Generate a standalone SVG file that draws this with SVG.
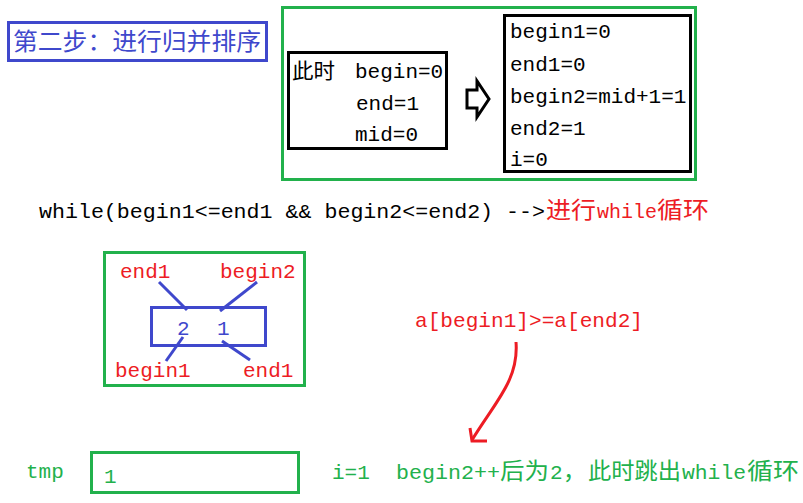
<svg xmlns="http://www.w3.org/2000/svg" width="803" height="503" viewBox="0 0 803 503">
<style>
.box{fill:none;stroke-width:3}
.g{stroke:#22b14c}.b{stroke:#3f48cc}.k{stroke:#000}
.m{font-family:"Liberation Mono","Noto Sans CJK SC",monospace;font-size:21px}
.c{font-family:"Noto Sans CJK SC","Liberation Sans",sans-serif}
.blk{fill:#000}.red{fill:#ed1c24}.grn{fill:#22b14c}.blu{fill:#3f48cc}
.ln{stroke:#3f48cc;stroke-width:3;fill:none}
</style>
<rect width="803" height="503" fill="#fff"/>
<g id="title">
<rect class="box b" x="8.5" y="22.5" width="258" height="38"/>
<text class="c blu" x="13" y="50" font-size="24" textLength="248" lengthAdjust="spacingAndGlyphs">第二步：进行归并排序</text>
</g>
<g id="state">
<rect class="box g" x="282.5" y="7.5" width="413" height="172"/>
<g id="before">
<rect class="box k" x="288.5" y="52.5" width="158" height="96"/>
<text class="c blk" x="292" y="78" font-size="21" textLength="43" lengthAdjust="spacingAndGlyphs">此时</text>
<text class="m blk" x="355" y="78">begin=0</text>
<text class="m blk" x="356" y="110">end=1</text>
<text class="m blk" x="355" y="141">mid=0</text>
</g>
<g id="arrow">
<polygon points="467,90 477,90 477,81 489,99 477,117 477,108 467,108" fill="#fff" stroke="#000" stroke-width="3"/>
</g>
<g id="after">
<rect class="box k" x="504.5" y="15.5" width="186" height="156"/>
<text class="m blk" x="510" y="38">begin1=0</text>
<text class="m blk" x="510" y="71">end1=0</text>
<text class="m blk" x="510" y="103">begin2=mid+1=1</text>
<text class="m blk" x="510" y="135">end2=1</text>
<text class="m blk" x="510" y="166">i=0</text>
</g>
</g>
<g id="while">
<text class="m blk" x="39" y="218" textLength="506" lengthAdjust="spacingAndGlyphs">while(begin1&lt;=end1 &amp;&amp; begin2&lt;=end2) --&gt;</text>
<text class="c red" x="546" y="218" font-size="23" textLength="50" lengthAdjust="spacingAndGlyphs">进行</text>
<text class="m red" x="597" y="218" textLength="60" lengthAdjust="spacingAndGlyphs">while</text>
<text class="c red" x="657" y="218" font-size="23" textLength="52" lengthAdjust="spacingAndGlyphs">循环</text>
</g>
<g id="array">
<rect class="box g" x="104.5" y="252.5" width="200" height="133"/>
<rect class="box b" x="151.5" y="307.5" width="114" height="38"/>
<text class="m blu" x="177" y="335">2</text>
<text class="m blu" x="217" y="335">1</text>
<text class="m red" x="120" y="278">end1</text>
<text class="m red" x="220" y="278">begin2</text>
<text class="m red" x="115" y="377">begin1</text>
<text class="m red" x="243" y="377">end1</text>
</g>
<g id="connectors">
<line class="ln" x1="159" y1="282" x2="187" y2="310"/>
<line class="ln" x1="257" y1="282" x2="220" y2="311"/>
<line class="ln" x1="183" y1="337" x2="166" y2="361"/>
<line class="ln" x1="222" y1="341" x2="250" y2="360"/>
<path d="M516,342 C519,380 495,402 472,440" fill="none" stroke="#ed1c24" stroke-width="3"/>
<polyline points="470,428 472,441 487,441" fill="none" stroke="#ed1c24" stroke-width="3"/>
</g>
<g id="cond">
<text class="m red" x="415" y="327" textLength="228" lengthAdjust="spacingAndGlyphs">a[begin1]&gt;=a[end2]</text>
</g>
<g id="tmp">
<text class="m grn" x="26" y="478">tmp</text>
<rect class="box g" x="91.5" y="452.5" width="207" height="40"/>
<text class="m grn" x="104" y="483">1</text>
</g>
<g id="note">
<text class="m grn" x="332" y="479">i=1</text>
<text class="m grn" x="396" y="479" textLength="104" lengthAdjust="spacingAndGlyphs">begin2++</text>
<text class="c grn" x="500" y="479" font-size="23" textLength="49" lengthAdjust="spacingAndGlyphs">后为</text>
<text class="m grn" x="550" y="479">2</text>
<text class="c grn" x="563" y="479" font-size="23">，</text>
<text class="c grn" x="588" y="479" font-size="23" textLength="93" lengthAdjust="spacingAndGlyphs">此时跳出</text>
<text class="m grn" x="682" y="479" textLength="64" lengthAdjust="spacingAndGlyphs">while</text>
<text class="c grn" x="747" y="479" font-size="23" textLength="52" lengthAdjust="spacingAndGlyphs">循环</text>
</g>
</svg>
